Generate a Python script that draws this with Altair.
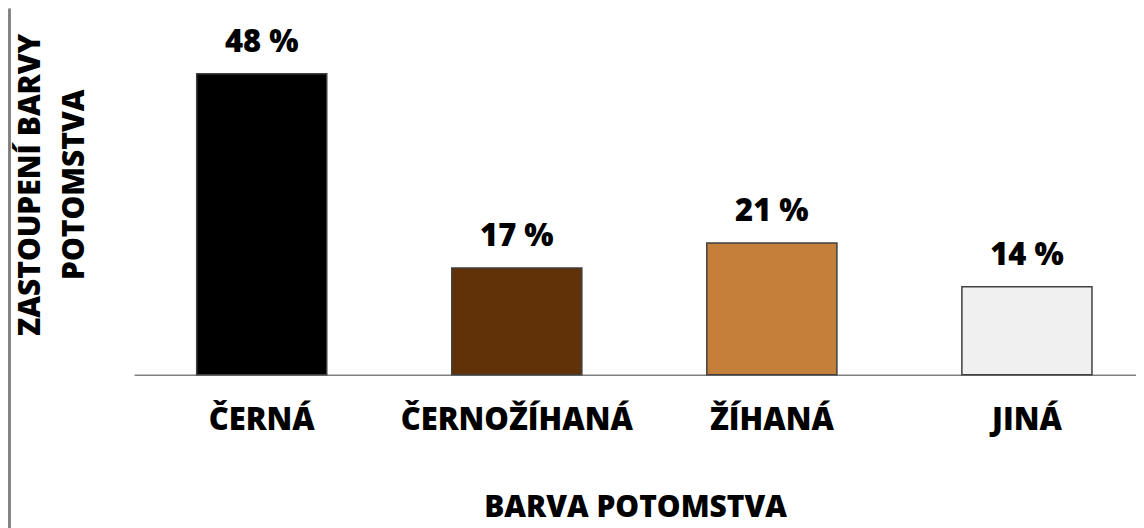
import altair as alt
import pandas as pd

categories = ["ČERNÁ", "ČERNOŽÍHANÁ", "ŽÍHANÁ", "JINÁ"]
values = [48, 17, 21, 14]
labels = ["48 %", "17 %", "21 %", "14 %"]
colors = ["#000000", "#613208", "#c4803a", "#f0f0f0"]

df = pd.DataFrame({"cat": categories, "val": values, "lab": labels, "col": colors})

FONT = "Open Sans"
FW = 800
FS = 31
W = 1005
H = 346

x = alt.X("cat:N", sort=categories,
          scale=alt.Scale(paddingInner=0.49, paddingOuter=0.209, align=0.587),
          axis=alt.Axis(title="BARVA POTOMSTVA", labelAngle=0, ticks=False, labelLimit=0,
                        labelPadding=31, titlePadding=57,
                        domainColor="#808080", domainWidth=1.5,
                        labelFont=FONT, labelFontSize=FS, labelFontWeight=FW, labelColor="#000",
                        titleFont=FONT, titleFontSize=30, titleFontWeight=FW, titleColor="#000"))
y = alt.Y("val:Q", scale=alt.Scale(domain=[0, 55], nice=False),
          axis=alt.Axis(title=["ZASTOUPENÍ BARVY", "POTOMSTVA"], labels=False, ticks=False,
                        domain=False, grid=False,
                        titleFont=FONT, titleFontSize=30, titleFontWeight=FW, titleColor="#000",
                        titleX=-89, titleY=155, titleAngle=-90, titleAlign="center",
                        titleLineHeight=44))

bars = alt.Chart(df).mark_bar(stroke="#404040", strokeWidth=1.5).encode(
    x=x, y=y, color=alt.Color("col:N", scale=None))

text = alt.Chart(df).mark_text(dy=-31, font=FONT, fontSize=FS, fontWeight=FW, color="#000").encode(
    x=alt.X("cat:N", sort=categories), y="val:Q", text="lab:N")

border = alt.Chart(df).mark_rule(color="#808080", strokeWidth=2).encode(
    x=alt.value(-125), y=alt.value(-21), y2=alt.value(H + 160))

chart = alt.layer(bars, text, border).properties(
    width=W, height=H,
    autosize=alt.AutoSizeParams(type="none"),
    padding={"left": 126.5, "top": 21, "right": 0, "bottom": 153},
).configure_view(stroke=None)

chart.save("out.html", embed_options={"renderer": "svg", "actions": False})
